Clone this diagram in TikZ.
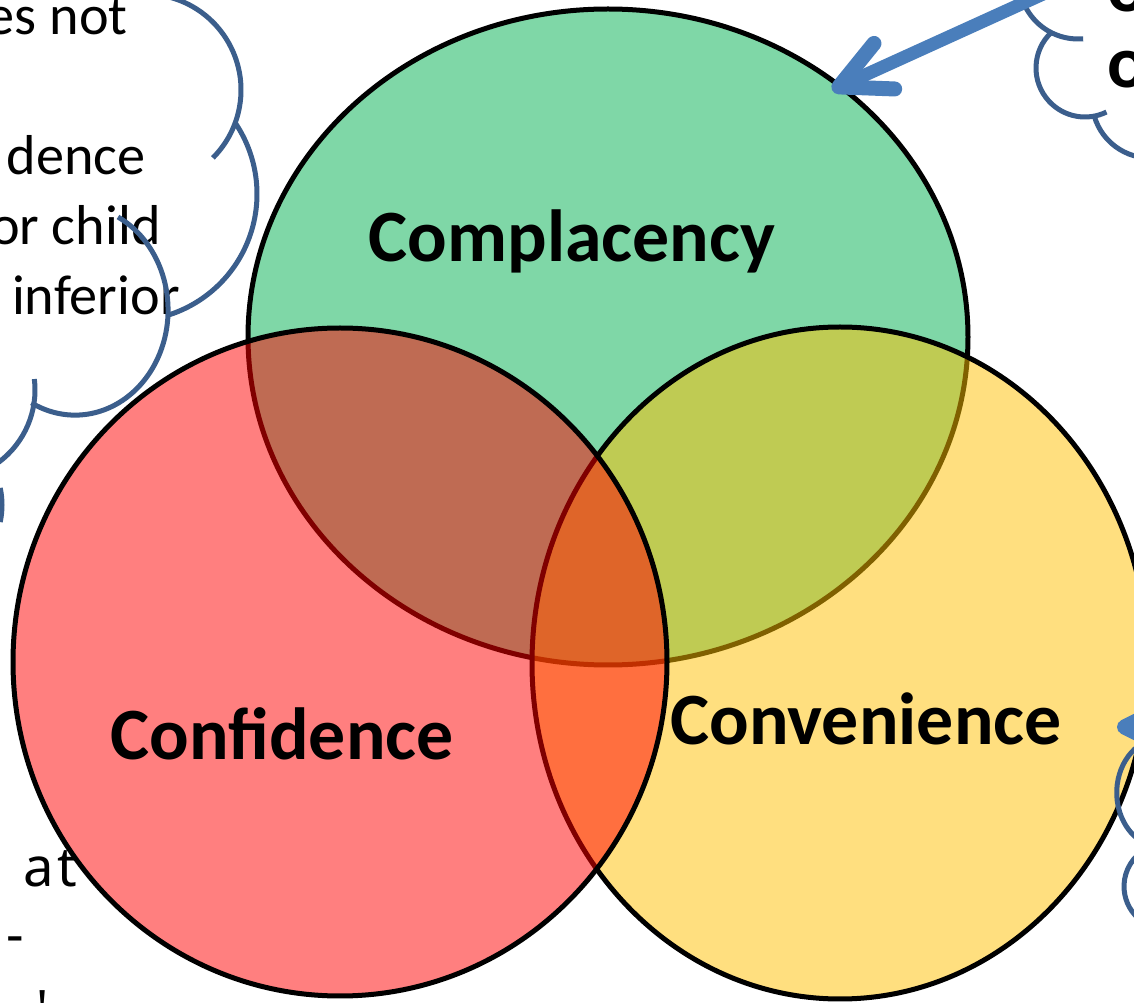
\documentclass[tikz,border=0pt]{standalone}
\usepackage{fontspec}
\setmainfont{Carlito}
\newfontfamily\handfont{Noto Sans}
\usetikzlibrary{
  arrows.meta,
}
\definecolor{vgreen}{RGB}{0, 176, 80}
\definecolor{vyellow}{RGB}{255, 192, 0}
\definecolor{vred}{RGB}{255, 0, 0}
\definecolor{cloudblue}{RGB}{59, 94, 140}
\definecolor{arrowblue}{RGB}{74, 126, 187}
\tikzstyle{venn} = [draw=black, line width=0.1cm, fill opacity=0.5]
\tikzstyle{cloud} = [draw=cloudblue, line width=0.1cm]
\tikzstyle{callout} = [
  -{Straight Barb[round,length=1cm,width=1cm,line width=0.3cm 0]},
  line width=0.26cm,
  arrowblue,
  line cap=round,
]
\tikzstyle{setname} = [font=\bfseries\fontsize{42}{50}\selectfont, inner sep=0, anchor=base]
\tikzstyle{note} = [font=\fontsize{32}{39}\selectfont, inner sep=0, anchor=base east]
\tikzstyle{hand} = [font=\handfont\fontsize{31}{37}\selectfont, inner sep=0]

\begin{document}
\begin{tikzpicture}[x=0.02cm, y=-0.02cm]
			\useasboundingbox (0,0) rectangle (1134,1003);
			\clip (0,0) rectangle (1134,1003);
			\fill[white] (0,0) rectangle (1134,1003);

			\draw[venn,fill=vgreen] (608,337) ellipse [x radius=360, y radius=328];
			\draw[venn,fill=vyellow] (840,663) ellipse [x radius=308, y radius=336];
			\draw[venn,fill=vred] (340,662) ellipse [x radius=327, y radius=334];

			\node[setname] (complacency) at (572,262) {Complacency};
			\node[setname] (confidence) at (282,760) {Confidence};
			\node[setname] (convenience) at (866,745) {Convenience};

			\node[note] (l1) at (128,35) {es not};
			\node[note] (l2) at (146,175) {dence};
			\node[note] (l3) at (161,245) {or child};
			\node[note] (l4) at (180,315) {inferior};

			\node[hand,anchor=base west] (h1) at (23,887) {a\kern2pt t};
			\node[hand] (h2) at (15,945) {-};
			\node[hand,anchor=north] (h3) at (43,990) {'};

			\node[setname,anchor=base west] (r1) at (1107,12) {o};
			\node[setname,anchor=base west] (r2) at (1107,88) {o};

			\draw[cloud] (145,90) ++(-80:96) arc[start angle=-80, end angle=45, radius=96];
			\draw[cloud] (130,194) ++(-34:127) arc[start angle=-34, end angle=72, radius=127];
			\draw[cloud] (118,217) arc[start angle=-62.5, end angle=118, x radius=93, y radius=105];
			\draw[cloud] (-55,390) ++(-7:90) arc[start angle=-7, end angle=100, radius=90];
			\draw[cloud] (-80,505) ++(-12:82) arc[start angle=-12, end angle=12, radius=82];

			\draw[cloud] (1078,-20) ++(180:59) arc[start angle=180, end angle=85, radius=59];
			\draw[cloud] (1085,68) ++(227:49) arc[start angle=227, end angle=64, radius=49];
			\draw[cloud] (1150,100) ++(164:58) arc[start angle=164, end angle=80, radius=58];
			\draw[cloud] (1147,741) arc[start angle=250, end angle=125, x radius=46, y radius=55];
			\draw[cloud] (1141.5,852) arc[start angle=235, end angle=125, x radius=41, y radius=42];

			\coordinate (tail1) at (1074,-20);
			\coordinate (tip1) at (832,90);
			\coordinate (tail2) at (1300,727);
			\coordinate (tip2) at (1117,727);
			\draw[callout] (tail1) -- (tip1);
			\draw[callout] (tail2) -- (tip2);
		\end{tikzpicture}
\end{document}
